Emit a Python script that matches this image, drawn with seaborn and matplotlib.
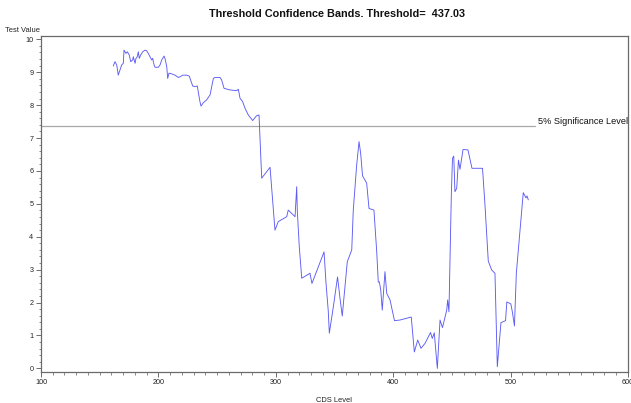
import matplotlib
matplotlib.use("Agg")
import matplotlib.pyplot as plt
from matplotlib.ticker import MultipleLocator
import numpy as np
import pandas as pd
import seaborn as sns

# CDS level (x) and test statistic (y) along the threshold search
cds_level = [
    161.6, 163.0, 164.5, 165.8, 168.7, 170.1, 170.7, 172.4, 173.5, 175.2,
    176.4, 178.1, 178.6, 180.1, 180.9, 182.0, 182.9, 183.7, 184.9, 186.6,
    188.6, 190.0, 191.4, 192.8, 194.3, 195.1, 196.3, 197.1, 199.9, 201.4,
    202.8, 204.8, 205.6, 207.1, 207.9, 209.0, 211.3, 214.1, 217.0, 218.4,
    220.7, 224.1, 226.3, 227.5, 229.2, 231.2, 233.1, 235.4, 236.3, 238.2,
    241.1, 244.0, 246.8, 248.2, 252.5, 253.9, 255.9, 261.0, 266.7, 268.1,
    269.5, 271.8, 273.8, 276.6, 280.3, 283.7, 285.7, 288.0, 295.1, 299.3,
    302.1, 309.3, 310.6, 316.4, 317.8, 318.3, 320.0, 322.1, 329.1, 330.8,
    341.1, 342.8, 344.7, 345.6, 349.0, 352.6, 354.7, 356.6, 360.9, 364.7,
    366.0, 368.9, 370.9, 372.3, 373.9, 377.4, 379.4, 383.6, 386.0, 387.3,
    388.2, 389.4, 390.7, 393.0, 394.5, 397.3, 401.1, 405.8, 415.4, 418.0,
    420.9, 423.7, 427.1, 431.8, 433.3, 435.0, 437.6, 439.9, 442.0, 445.6,
    446.4, 447.5, 448.6, 449.5, 450.5, 451.6, 452.6, 454.1, 455.6, 456.9,
    459.5, 463.7, 467.1, 476.1, 478.2, 481.0, 483.9, 486.7, 488.7, 491.8,
    495.7, 496.8, 500.2, 501.5, 503.3, 504.9, 510.8, 513.1, 514.0, 515.1,
]
test_value = [
    9.19, 9.32, 9.22, 8.91, 9.22, 9.27, 9.67, 9.57, 9.62, 9.52,
    9.32, 9.37, 9.47, 9.27, 9.42, 9.47, 9.62, 9.42, 9.52, 9.62,
    9.67, 9.65, 9.57, 9.47, 9.37, 9.42, 9.22, 9.15, 9.15, 9.22,
    9.37, 9.49, 9.42, 9.17, 8.81, 8.97, 8.95, 8.91, 8.84, 8.86,
    8.91, 8.91, 8.88, 8.76, 8.58, 8.56, 8.58, 8.10, 7.97, 8.07,
    8.16, 8.31, 8.81, 8.84, 8.84, 8.76, 8.51, 8.46, 8.44, 8.48,
    8.21, 8.10, 7.90, 7.70, 7.53, 7.68, 7.70, 5.78, 6.11, 4.20,
    4.46, 4.61, 4.81, 4.61, 5.52, 4.81, 3.70, 2.74, 2.89, 2.58,
    3.54, 2.58, 1.74, 1.07, 1.87, 2.78, 2.13, 1.59, 3.24, 3.60,
    4.81, 6.18, 6.89, 6.53, 5.85, 5.63, 4.86, 4.81, 3.53, 2.62,
    2.63, 2.38, 1.77, 2.94, 2.28, 2.08, 1.45, 1.47, 1.56, 0.50,
    0.86, 0.61, 0.76, 1.09, 0.91, 1.08, 0.00, 1.47, 1.24, 1.77,
    2.08, 1.72, 3.75, 5.24, 6.38, 6.45, 5.37, 5.47, 6.33, 6.05,
    6.65, 6.64, 6.08, 6.08, 4.96, 3.26, 2.99, 2.89, 0.05, 1.39,
    1.45, 2.02, 1.96, 1.72, 1.29, 2.89, 5.34, 5.18, 5.24, 5.12,
]
significance_level = 7.35
level_label = "5% Significance Level"
threshold = 437.03

df = pd.DataFrame({"CDS Level": cds_level, "Test Value": test_value})

sns.set_style("ticks")
plt.rcParams["font.family"] = ["Liberation Sans", "DejaVu Sans"]

fig = plt.figure(figsize=(6.31, 4.03), dpi=100)
ax = fig.add_axes([0.065, 0.0777, 0.9302, 0.833])

sns.lineplot(data=df, x="CDS Level", y="Test Value", sort=False,
             estimator=None, color="#5c5cf4", linewidth=0.65, ax=ax)

# significance reference line with its label at the right end
ax.plot([100, 520.8], [significance_level, significance_level],
        color="#a8a8a8", linewidth=0.9, zorder=1)
ax.text(523.5, significance_level + 0.0, level_label, fontsize=6.6,
        color="#111111", ha="left", va="bottom")

ax.set_xlim(100, 600)
ax.xaxis.set_major_locator(MultipleLocator(100))
ax.xaxis.set_minor_locator(MultipleLocator(10))
ax.yaxis.set_minor_locator(MultipleLocator(0.2))
ax.set_yticks(np.arange(0, 11, 1))
ax.set_ylim(-0.1, 10.1)

ax.tick_params(which="major", direction="out", length=3.5, width=0.6,
               color="#555555", labelsize=5.2, labelcolor="#222222", pad=2)
ax.tick_params(which="minor", direction="out", length=1.8, width=0.5,
               color="#555555")

for s in ax.spines.values():
    s.set_color("#6a6a6a")
    s.set_linewidth(0.9)

ax.set_xlabel("CDS Level", fontsize=5.4, color="#222222", labelpad=8)
ax.set_ylabel("")
fig.text(5 / 631, 1 - 30 / 403, "Test Value", fontsize=5.4,
         color="#222222", ha="left", va="center")

fig.text(336.5 / 631, 1 - 14 / 403,
         f"Threshold Confidence Bands. Threshold=  {threshold:.2f}",
         fontsize=7.8, fontweight="bold", ha="center", va="center",
         color="#111111")

fig.savefig("out.png", dpi=100)
